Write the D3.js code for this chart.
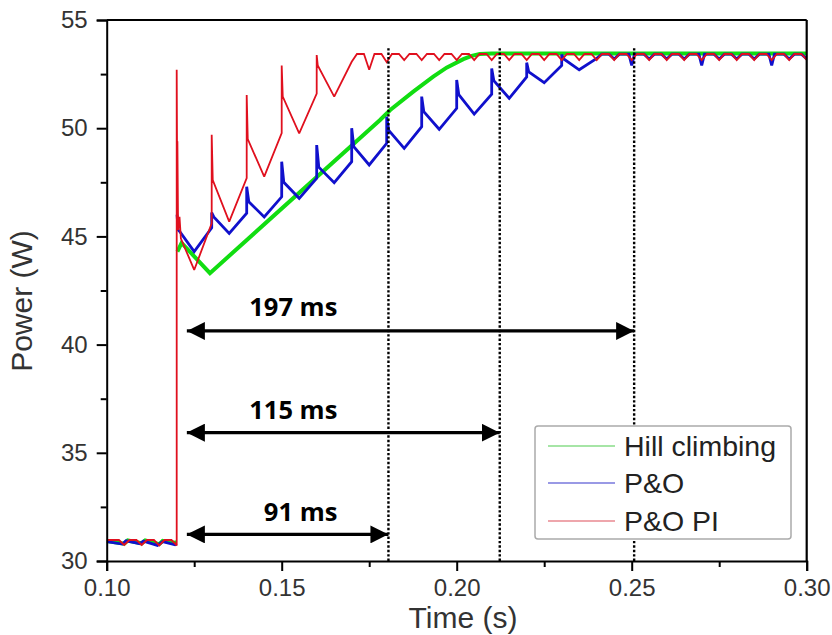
<!DOCTYPE html>
<html>
<head>
<meta charset="utf-8">
<script src="https://cdn.jsdelivr.net/npm/d3@7/dist/d3.min.js"></script>
<style>
  html, body { margin: 0; padding: 0; background: #fff; }
  svg { display: block; }
</style>
</head>
<body>
<svg id="chart" width="832" height="635"></svg>
<script>
// ---------- DATA ----------
const seriesNames = ["Hill climbing", "P&O", "P&O PI"];
const seriesColors = ["#11dd11", "#1010cc", "#e0101e"];
const legendColors = ["#88dd88", "#7777dd", "#e88890"];

const xTickValues = [0.10, 0.15, 0.20, 0.25, 0.30];
const xMinorTicks = [0.125, 0.175, 0.225, 0.275];
const yTickValues = [30, 35, 40, 45, 50, 55];
const yMinorTicks = [32.5, 37.5, 42.5, 47.5, 52.5];

// [time (s), power (W)]; null = no visible trace (step hidden behind P&O PI)
const hillClimbing = [
  [0.1000,30.92],[0.1050,30.80],[0.1060,30.95],[0.1100,30.82],[0.1110,30.95],[0.1150,30.78],[0.1160,30.93],[0.1195,30.85],[0.1200,30.85],
  null,
  [0.1202,44.3],[0.1214,44.7],[0.1295,43.3],[0.1781,50.38],[0.1810,50.84],[0.1876,51.69],[0.1933,52.38],
  [0.1971,52.80],[0.2019,53.19],[0.2043,53.34],[0.2066,53.43],[0.2100,53.45],[0.3000,53.45]
];

const pAndO = [
  [0.1000,30.90],[0.1045,30.78],[0.1055,30.93],[0.1095,30.80],[0.1105,30.92],[0.1145,30.72],[0.1160,30.90],[0.1195,30.75],[0.1200,30.80],
  null,
  [0.1201,46.0],[0.1204,45.3],[0.1210,45.2],[0.1250,44.3],[0.1300,45.4],
  [0.1300,46.1],[0.1306,45.9],[0.1350,45.14],[0.1400,46.07],
  [0.1400,47.3],[0.1406,46.6],[0.1450,45.9],[0.1500,46.83],
  [0.1500,48.45],[0.1506,47.5],[0.1550,46.76],[0.1600,47.69],
  [0.1600,49.22],[0.1606,48.2],[0.1650,47.48],[0.1700,48.45],
  [0.1700,50.0],[0.1706,49.15],[0.1750,48.3],[0.1800,49.3],
  [0.1800,50.53],[0.1806,49.9],[0.1850,49.07],[0.1900,50.07],
  [0.1900,51.46],[0.1906,50.76],[0.1950,49.95],[0.2000,50.92],
  [0.2000,52.23],[0.2006,51.55],[0.2050,50.65],[0.2100,51.57],
  [0.2100,52.76],[0.2106,52.2],[0.2150,51.38],[0.2200,52.37],
  [0.2200,53.03],[0.2206,52.6],[0.2250,52.1],[0.2300,52.9],
  [0.2300,53.40],[0.2306,53.2],[0.2350,52.7],[0.2400,53.23],
  [0.2415,53.42],[0.2435,53.42],[0.2450,53.2],[0.2465,53.42],[0.2492,53.42],[0.2500,52.9],[0.2508,53.42],
  [0.2535,53.42],[0.2550,53.2],[0.2565,53.42],[0.2585,53.42],[0.2600,53.2],[0.2615,53.42],[0.2635,53.42],
  [0.2650,53.2],[0.2665,53.42],[0.2692,53.42],[0.2700,52.9],[0.2708,53.42],[0.2735,53.42],[0.2750,53.2],
  [0.2765,53.42],[0.2785,53.42],[0.2800,53.2],[0.2815,53.42],[0.2835,53.42],[0.2850,53.2],[0.2865,53.42],
  [0.2892,53.42],[0.2900,52.9],[0.2908,53.42],[0.2935,53.42],[0.2950,53.2],[0.2965,53.42],[0.2985,53.42],[0.3000,53.2]
];

const pAndOPI = [
  [0.1000,30.97],[0.1035,30.97],[0.1050,30.74],[0.1065,30.97],[0.1085,30.97],[0.1100,30.74],[0.1115,30.97],
  [0.1135,30.97],[0.1150,30.72],[0.1165,30.97],[0.1185,30.97],[0.1200,30.72],
  [0.1200,52.7],[0.12015,47.0],[0.1202,49.4],[0.1204,45.3],[0.1208,45.9],[0.1212,44.9],[0.1250,43.45],[0.1300,45.6],
  [0.1300,49.7],[0.1303,47.6],[0.1350,45.68],[0.1400,47.7],
  [0.1400,51.53],[0.1403,49.5],[0.1450,47.76],[0.1500,49.78],
  [0.1500,52.9],[0.1503,51.46],[0.1550,49.76],[0.1600,51.6],
  [0.1600,53.38],[0.1603,52.9],[0.1650,51.46],[0.1700,53.07],
  [0.1715,53.43],[0.1735,53.43],[0.1750,52.7],[0.1765,53.43],[0.1785,53.43],[0.1800,53.05],
  [0.1815,53.43],[0.1835,53.43],[0.1850,53.15],[0.1865,53.43],[0.1885,53.43],[0.1900,53.15],[0.1915,53.43],
  [0.1935,53.43],[0.1950,53.15],[0.1965,53.43],[0.1985,53.43],[0.2000,53.15],[0.2015,53.43],[0.2035,53.43],
  [0.2050,53.15],[0.2065,53.43],[0.2085,53.43],[0.2100,53.15],[0.2115,53.43],[0.2135,53.43],[0.2150,53.15],
  [0.2165,53.43],[0.2185,53.43],[0.2200,53.15],[0.2215,53.43],[0.2235,53.43],[0.2250,53.15],[0.2265,53.43],
  [0.2285,53.43],[0.2300,53.15],[0.2315,53.43],[0.2335,53.43],[0.2350,53.15],[0.2365,53.43],[0.2385,53.43],
  [0.2400,53.15],[0.2415,53.43],[0.2435,53.43],[0.2450,53.15],[0.2465,53.43],[0.2485,53.43],[0.2500,53.15],
  [0.2515,53.43],[0.2535,53.43],[0.2550,53.15],[0.2565,53.43],[0.2585,53.43],[0.2600,53.15],[0.2615,53.43],
  [0.2635,53.43],[0.2650,53.15],[0.2665,53.43],[0.2685,53.43],[0.2700,53.15],[0.2715,53.43],[0.2735,53.43],
  [0.2750,53.15],[0.2765,53.43],[0.2785,53.43],[0.2800,53.15],[0.2815,53.43],[0.2835,53.43],[0.2850,53.15],
  [0.2865,53.43],[0.2885,53.43],[0.2900,53.15],[0.2915,53.43],[0.2935,53.43],[0.2950,53.15],[0.2965,53.43],
  [0.2985,53.43],[0.3000,53.15]
];

// settling markers (dotted lines) and annotation arrows
const settleTimes = [0.1805, 0.2123, 0.2507];
const arrowStart = 0.1229;
const arrowLabels = ["91 ms", "115 ms", "197 ms"];
const arrowEnds = [0.1805, 0.2123, 0.2507];
const arrowLevels = [31.23, 35.93, 40.63];
const labelLevels = [31.85, 36.55, 41.31];
const labelRightT = 0.1659;
const dottedTop = 53.7;

// ---------- LAYOUT ----------
const svg = d3.select("#chart");
const x = d3.scaleLinear().domain([0.10, 0.30]).range([106.7, 806.7]);
const y = d3.scaleLinear().domain([30, 55]).range([561, 20]);
const fontAxis = "'Liberation Sans', Arial, sans-serif";

const defs = svg.append("defs");
defs.append("clipPath").attr("id", "clip")
  .append("rect").attr("x", x(0.10)).attr("y", y(55)).attr("width", x(0.30) - x(0.10)).attr("height", y(30) - y(55));

// series
const line = d3.line().defined(d => d !== null).x(d => x(d[0])).y(d => y(d[1]));
const seriesData = [hillClimbing, pAndO, pAndOPI];
const widths = [4, 2.8, 1.8];
const g = svg.append("g").attr("clip-path", "url(#clip)");
seriesData.forEach((data, i) => {
  g.append("path").datum(data).attr("d", line)
    .attr("fill", "none").attr("stroke", seriesColors[i])
    .attr("stroke-width", widths[i]).attr("stroke-linejoin", "miter").attr("stroke-miterlimit", 2);
});

// dotted settle lines
svg.append("g").selectAll("line").data(settleTimes).join("line")
  .attr("x1", d => x(d)).attr("x2", d => x(d))
  .attr("y1", y(dottedTop)).attr("y2", y(30))
  .attr("stroke", "#000").attr("stroke-width", 2.4).attr("stroke-dasharray", "2.4,2");

// arrows
defs.append("marker").attr("id", "ahEnd").attr("viewBox", "0 0 10 10")
  .attr("refX", 10).attr("refY", 5).attr("markerWidth", 18).attr("markerHeight", 18)
  .attr("markerUnits", "userSpaceOnUse").attr("orient", "auto")
  .append("path").attr("d", "M0,0 L10,5 L0,10 Z").attr("fill", "#000");
defs.append("marker").attr("id", "ahStart").attr("viewBox", "0 0 10 10")
  .attr("refX", 0).attr("refY", 5).attr("markerWidth", 18).attr("markerHeight", 18)
  .attr("markerUnits", "userSpaceOnUse").attr("orient", "auto")
  .append("path").attr("d", "M10,0 L0,5 L10,10 Z").attr("fill", "#000");

const ag = svg.append("g");
arrowEnds.forEach((te, i) => {
  ag.append("line")
    .attr("x1", x(arrowStart)).attr("x2", x(te))
    .attr("y1", y(arrowLevels[i])).attr("y2", y(arrowLevels[i]))
    .attr("stroke", "#000").attr("stroke-width", 3.3)
    .attr("marker-start", "url(#ahStart)").attr("marker-end", "url(#ahEnd)");
  ag.append("text")
    .attr("x", x(labelRightT)).attr("y", y(labelLevels[i]))
    .attr("text-anchor", "end")
    .attr("font-family", "'Open Sans', sans-serif").attr("font-weight", "bold")
    .attr("font-size", 25.5).attr("fill", "#000")
    .text(arrowLabels[i]);
});

// axes
const xAxis = svg.append("g").attr("transform", `translate(0,${y(30)})`)
  .call(d3.axisBottom(x).tickValues(xTickValues).tickSize(10).tickPadding(8).tickFormat(d3.format(".2f")));
const xMinor = svg.append("g").attr("transform", `translate(0,${y(30)})`)
  .call(d3.axisBottom(x).tickValues(xMinorTicks).tickSize(6).tickFormat(""));
const yAxis = svg.append("g").attr("transform", `translate(${x(0.10)},0)`)
  .call(d3.axisLeft(y).tickValues(yTickValues).tickSize(10).tickPadding(9).tickFormat(d3.format("d")));
const yMinor = svg.append("g").attr("transform", `translate(${x(0.10)},0)`)
  .call(d3.axisLeft(y).tickValues(yMinorTicks).tickSize(6).tickFormat(""));

[xAxis, xMinor, yAxis, yMinor].forEach(a => {
  a.selectAll("path").attr("stroke", "#000").attr("stroke-width", 2);
  a.selectAll("line").attr("stroke", "#000").attr("stroke-width", 2);
  a.selectAll("text").attr("font-family", fontAxis).attr("font-size", 24).attr("fill", "#333");
});
xMinor.select("path").remove();
yMinor.select("path").remove();

// frame top & right
svg.append("line").attr("x1", x(0.10)).attr("x2", x(0.30)).attr("y1", y(55)).attr("y2", y(55))
  .attr("stroke", "#000").attr("stroke-width", 2);
svg.append("line").attr("x1", x(0.30)).attr("x2", x(0.30)).attr("y1", y(55)).attr("y2", y(30))
  .attr("stroke", "#000").attr("stroke-width", 2.2);

// axis titles
svg.append("text").attr("x", 463).attr("y", 628).attr("text-anchor", "middle")
  .attr("font-family", fontAxis).attr("font-size", 30).attr("fill", "#333").text("Time (s)");
svg.append("text").attr("transform", "translate(32,301) rotate(-90)").attr("text-anchor", "middle")
  .attr("font-family", fontAxis).attr("font-size", 30).attr("fill", "#333").text("Power (W)");

// legend
const lg = svg.append("g");
lg.append("rect").attr("x", 535).attr("y", 426).attr("width", 256).attr("height", 113)
  .attr("rx", 3).attr("fill", "#fff").attr("stroke", "#aaa").attr("stroke-width", 1.5);
const legendY = [446, 483, 521];
seriesNames.forEach((name, i) => {
  lg.append("line").attr("x1", 548).attr("x2", 615).attr("y1", legendY[i]).attr("y2", legendY[i])
    .attr("stroke", legendColors[i]).attr("stroke-width", 1.5);
  lg.append("text").attr("x", 624).attr("y", legendY[i] + 10)
    .attr("font-family", fontAxis).attr("font-size", 28.5).attr("fill", "#222").text(name);
});
</script>
</body>
</html>
